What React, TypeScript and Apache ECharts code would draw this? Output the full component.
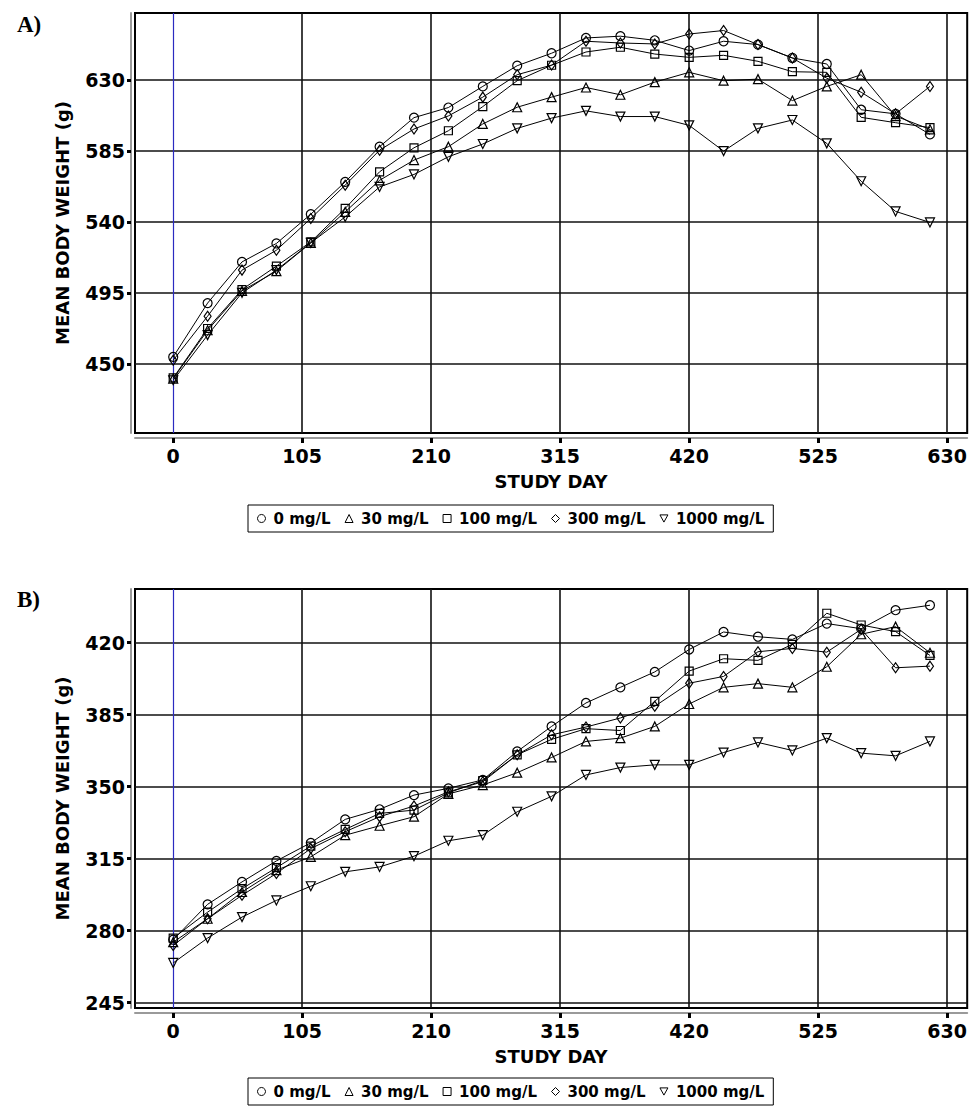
import React, { useEffect, useRef } from 'react';
import * as echarts from 'echarts';

// Study days (x values)
const DAYS = [0, 28, 56, 84, 112, 140, 168, 196, 224, 252, 280, 308, 336, 364, 392, 420, 448, 476, 504, 532, 560, 588, 616];
const LEVELS = ['0 mg/L', '30 mg/L', '100 mg/L', '300 mg/L', '1000 mg/L'];

// Panel A mean body weight (g)
const A_0 = [454.4, 488.5, 514.6, 526.3, 544.8, 565.3, 587.6, 606.0, 612.4, 625.8, 638.9, 646.8, 656.5, 657.6, 655.0, 648.5, 654.4, 652.3, 643.8, 640.0, 611.0, 608.4, 595.4];
const A_30 = [440.7, 471.3, 496.3, 508.7, 526.7, 546.3, 566.3, 579.1, 587.6, 602.0, 612.6, 619.0, 625.1, 620.5, 628.5, 634.7, 629.4, 630.4, 616.8, 625.8, 633.2, 607.0, 598.6];
const A_100 = [441.1, 472.4, 497.1, 511.9, 527.3, 548.5, 571.7, 586.9, 597.7, 613.0, 629.4, 639.2, 647.6, 650.6, 646.3, 644.2, 645.5, 641.7, 635.1, 634.7, 606.2, 602.8, 599.7];
const A_300 = [452.3, 480.2, 509.4, 522.0, 542.1, 563.2, 585.4, 598.8, 607.1, 619.0, 633.2, 639.3, 654.4, 653.3, 652.7, 659.0, 661.2, 652.3, 643.8, 631.0, 622.1, 608.4, 625.8];
const A_1000 = [439.6, 468.2, 495.0, 509.4, 526.7, 543.1, 562.1, 570.0, 581.2, 589.3, 599.2, 605.7, 610.3, 606.7, 606.7, 601.1, 584.8, 599.2, 604.5, 589.7, 565.7, 546.6, 539.6];

// Panel B mean body weight (g)
const B_0 = [275.6, 292.8, 303.7, 313.9, 322.7, 334.1, 339.0, 345.9, 349.2, 353.3, 367.1, 379.3, 390.7, 398.3, 405.8, 416.7, 425.2, 422.9, 421.6, 429.3, 426.8, 435.8, 438.2];
const B_30 = [274.4, 285.8, 298.8, 309.4, 315.9, 326.4, 331.0, 335.4, 346.5, 350.8, 356.8, 364.2, 372.0, 373.6, 379.3, 390.2, 398.3, 400.1, 398.3, 408.3, 424.1, 427.8, 415.1];
const B_100 = [276.4, 289.0, 300.4, 310.6, 321.1, 329.2, 337.0, 338.6, 347.0, 353.0, 365.5, 373.0, 378.2, 377.3, 391.5, 406.2, 412.2, 411.4, 419.2, 434.3, 428.6, 425.4, 413.8];
const B_300 = [272.8, 285.8, 297.2, 307.8, 319.9, 328.1, 335.4, 340.6, 347.5, 352.4, 365.5, 375.2, 379.0, 383.4, 389.1, 400.3, 403.6, 415.6, 417.2, 415.4, 426.5, 407.8, 408.6];
const B_1000 = [264.3, 276.4, 286.6, 294.7, 301.6, 308.6, 311.0, 316.2, 323.7, 326.4, 337.8, 345.3, 355.7, 359.3, 360.6, 360.6, 366.6, 371.5, 367.6, 373.6, 366.3, 365.0, 372.0];

const X_TICKS = [0, 105, 210, 315, 420, 525, 630];
const YA_TICKS = [450, 495, 540, 585, 630];
const YB_TICKS = [245, 280, 315, 350, 385, 420];

const PANEL_A = [A_0, A_30, A_100, A_300, A_1000];
const PANEL_B = [B_0, B_30, B_100, B_300, B_1000];

const SYMBOLS = ['circle', 'triangle', 'rect', 'diamond', 'triangle'];
const ROTATE = [0, 0, 0, 0, 180];
const SIZES: any[] = [9, 9, 8, [7, 10], 9];
const LEGEND_ICONS = ['circle', 'triangle', 'rect', 'diamond', 'path://M0,0L10,0L5,9Z'];

const FONT = 'DejaVu Sans';

export default function App() {
  const ref = useRef<HTMLDivElement>(null);

  useEffect(() => {
    const chart = echarts.init(ref.current as HTMLDivElement, null, { renderer: 'svg' });

    const labelStyle = { fontSize: 19, fontWeight: 'bold', fontFamily: FONT, color: '#000' };
    const nameStyle = { fontSize: 18, fontWeight: 'bold', fontFamily: FONT, color: '#000' };

    const xAxis = (gridIndex: number) => ({
      type: 'value',
      gridIndex,
      min: -31.1,
      max: 646.3,
      offset: 5,
      axisLine: { show: true, onZero: false, lineStyle: { color: '#9a9a9a', width: 2 } },
      axisTick: { show: true, customValues: X_TICKS, length: 5, lineStyle: { color: '#000', width: 3 } },
      axisLabel: { customValues: X_TICKS, margin: 8, ...labelStyle },
      splitLine: {
        show: true,
        lineStyle: {
          color: ['rgba(0,0,0,0)', '#111', '#111', '#111', '#111', '#111', '#111'],
          width: 1.6,
        },
      },
      name: 'STUDY DAY',
      nameLocation: 'middle',
      nameGap: 34,
      nameTextStyle: nameStyle,
    });

    const yAxis = (gridIndex: number, min: number, max: number, ticks: number[]) => ({
      type: 'value',
      gridIndex,
      min,
      max,
      offset: 4,
      axisLine: { show: true, onZero: false, lineStyle: { color: '#9a9a9a', width: 2 } },
      axisTick: { show: true, customValues: ticks, length: 4, lineStyle: { color: '#000', width: 3 } },
      axisLabel: { customValues: ticks, margin: 6, ...labelStyle },
      splitLine: { show: true, lineStyle: { color: '#111', width: 1.6 } },
      name: 'MEAN BODY WEIGHT (g)',
      nameLocation: 'middle',
      nameGap: 60,
      nameTextStyle: nameStyle,
    });

    const makeSeries = (panel: number[][], axisIndex: number) =>
      panel.map((vals, i) => ({
        name: LEVELS[i],
        type: 'line',
        xAxisIndex: axisIndex,
        yAxisIndex: axisIndex,
        data: DAYS.map((d, j) => [d, vals[j]]),
        symbol: SYMBOLS[i],
        symbolRotate: ROTATE[i],
        symbolSize: SIZES[i],
        showSymbol: true,
        lineStyle: { color: '#000', width: 1 },
        itemStyle: { color: 'rgba(0,0,0,0)', borderColor: '#000', borderWidth: 1.2 },
        emphasis: { disabled: true },
        z: 5,
        markLine:
          i === 0
            ? {
                silent: true,
                symbol: 'none',
                label: { show: false },
                lineStyle: { color: '#2b2bc0', width: 1.2, type: 'solid' },
                data: [{ xAxis: DAYS[0] }],
                z: 1,
              }
            : undefined,
      }));

    const legend = (top: number) => ({
      left: 248,
      top,
      orient: 'horizontal',
      data: LEVELS.map((n, i) => ({ name: n, icon: LEGEND_ICONS[i], symbolRotate: 0 })),
      itemWidth: 8,
      itemHeight: 8,
      itemGap: 14,
      padding: [6, 9, 6, 9],
      borderColor: '#000',
      borderWidth: 1,
      selectedMode: false,
      itemStyle: { color: 'rgba(0,0,0,0)', borderColor: '#000', borderWidth: 1 },
      textStyle: { fontSize: 15, fontWeight: 'bold', fontFamily: FONT, color: '#000', padding: [0, 0, 0, 3] },
    });

    const titleStyle = { fontSize: 23, fontWeight: 'bold', fontFamily: 'Liberation Serif', color: '#000' };

    chart.setOption({
      animation: false,
      backgroundColor: '#fff',
      title: [
        { text: 'A)', left: 12, top: 8, textStyle: titleStyle },
        { text: 'B)', left: 12, top: 583, textStyle: titleStyle },
      ],
      grid: [
        { left: 135, top: 13, width: 833, height: 420, show: true, borderColor: '#000', borderWidth: 2, backgroundColor: 'transparent' },
        { left: 135, top: 589, width: 833, height: 419, show: true, borderColor: '#000', borderWidth: 2, backgroundColor: 'transparent' },
      ],
      xAxis: [xAxis(0), xAxis(1)],
      yAxis: [yAxis(0, 406.2, 672.3, YA_TICKS), yAxis(1, 242.4, 446.1, YB_TICKS)],
      legend: [legend(505), legend(1078)],
      series: [...makeSeries(PANEL_A, 0), ...makeSeries(PANEL_B, 1)],
    });

    return () => chart.dispose();
  }, []);

  return (
    <div
      ref={ref}
      style={{ position: 'absolute', left: 0, top: 0, width: 970, height: 1108, background: '#fff' }}
    />
  );
}
